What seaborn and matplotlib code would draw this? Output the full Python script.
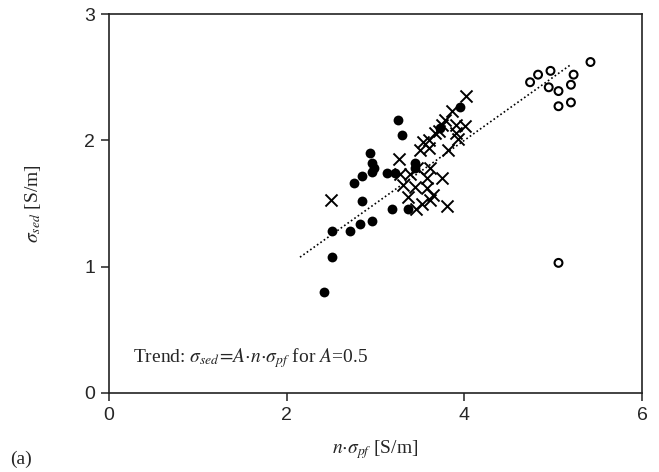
import matplotlib
matplotlib.use("Agg")
import matplotlib.pyplot as plt
import seaborn as sns
import numpy as np

# filled dots
dots_x = [2.42, 2.51, 2.51, 2.71, 2.82, 2.96, 2.85, 2.76, 2.85, 2.96, 2.98, 2.96,
          2.94, 3.13, 3.22, 3.19, 3.37, 3.25, 3.30, 3.45, 3.45, 3.73, 3.95]
dots_y = [0.80, 1.08, 1.28, 1.28, 1.34, 1.36, 1.52, 1.66, 1.72, 1.75, 1.78, 1.82,
          1.90, 1.74, 1.74, 1.46, 1.46, 2.16, 2.04, 1.82, 1.78, 2.10, 2.26]

# crosses
cross_x = [2.50, 3.27, 3.28, 3.31, 3.37, 3.39, 3.45, 3.46, 3.47, 3.50, 3.52, 3.54,
           3.58, 3.58, 3.60, 3.60, 3.61, 3.61, 3.65, 3.67, 3.71, 3.75, 3.75, 3.78,
           3.80, 3.82, 3.86, 3.91, 3.91, 3.93, 4.01, 4.02]
cross_y = [1.53, 1.85, 1.73, 1.65, 1.55, 1.73, 1.63, 1.46, 1.78, 1.92, 1.50, 1.99,
           1.70, 1.62, 1.94, 2.00, 1.78, 1.53, 1.57, 2.06, 2.07, 1.70, 2.12, 2.16,
           1.48, 1.92, 2.23, 2.06, 2.12, 2.01, 2.11, 2.35]

# open circles
open_x = [5.42, 4.97, 4.83, 4.74, 5.23, 5.20, 4.95, 5.06, 5.06, 5.20, 5.06]
open_y = [2.62, 2.55, 2.52, 2.46, 2.52, 2.44, 2.42, 2.39, 2.27, 2.30, 1.03]

# trend line sigma_sed = A * n * sigma_pf
A = 0.5
trend_x = [2.15, 5.2]

sns.set_style("ticks")
plt.rcParams['font.family'] = ['Liberation Serif', 'DejaVu Serif']
plt.rcParams['mathtext.fontset'] = 'stix'

fig = plt.figure(figsize=(6.59, 4.72), dpi=100)
ax = fig.add_axes([0.1654, 0.1674, 0.9742 - 0.1654, 0.9703 - 0.1674])

sns.scatterplot(x=dots_x, y=dots_y, ax=ax, marker='o', color='black',
                s=50, edgecolor='black', linewidth=0)
sns.scatterplot(x=cross_x, y=cross_y, ax=ax, marker='x', color='black',
                s=75, linewidth=1.4)
sns.scatterplot(x=open_x, y=open_y, ax=ax, marker='o', facecolor='none',
                edgecolor='black', s=32, linewidth=1.5)
sns.lineplot(x=trend_x, y=[A * v for v in trend_x], ax=ax, color='black',
             linestyle=(0, (1, 1.5)), linewidth=1.2)

ax.set_xlim(0, 6)
ax.set_ylim(0, 3)
ax.set_xticks([0, 2, 4, 6])
ax.set_yticks([0, 1, 2, 3])
for lab in ax.get_xticklabels() + ax.get_yticklabels():
    lab.set_family('Liberation Sans')
    lab.set_fontsize(14)
ax.tick_params(direction='out', length=6, width=1.2, color='#333333', pad=4)
for sp in ax.spines.values():
    sp.set_linewidth(1.2)
    sp.set_color('#222222')

ax.set_xlabel(r'$n{\cdot}\sigma_{pf}$ [S/m]', fontsize=14, labelpad=10)
ax.set_ylabel(r'$\sigma_{sed}$ [S/m]', fontsize=14, labelpad=30)

ax.text(0.27, 0.28, r'Trend: $\sigma_{sed}\!=\!A{\cdot}n{\cdot}\sigma_{pf}$ for $A$=0.5',
        fontsize=14, va='center', ha='left')
fig.text(0.015, 0.018, '(a)', fontsize=14)

fig.savefig('out.png', dpi=100)
